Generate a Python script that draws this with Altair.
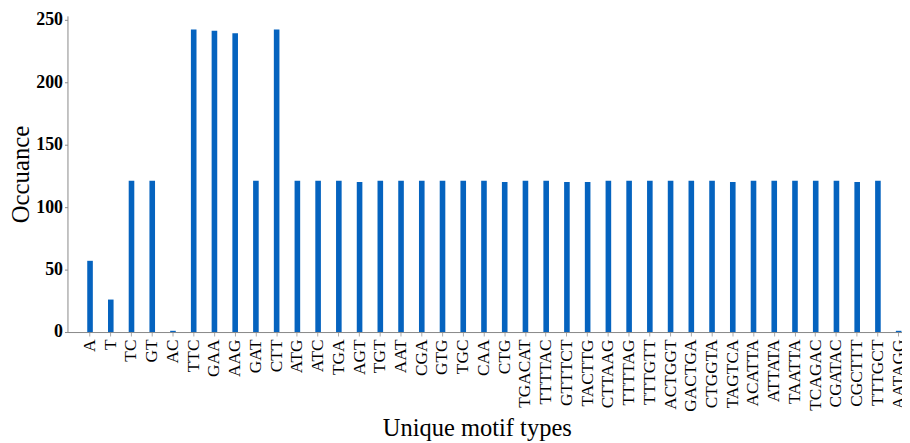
import altair as alt
import pandas as pd

motifs = ["A", "T", "TC", "GT", "AC", "TTC", "GAA", "AAG", "GAT", "CTT",
          "ATG", "ATC", "TGA", "AGT", "TGT", "AAT", "CGA", "GTG", "TGC", "CAA",
          "CTG", "TGACAT", "TTTTAC", "GTTTCT", "TACTTG", "CTTAAG", "TTTTAG", "TTTGTT",
          "ACTGGT", "GACTGA", "CTGGTA", "TAGTCA", "ACATTA", "ATTATA", "TAATTA",
          "TCAGAC", "CGATAC", "CGCTTT", "TTTGCT", "AATAGG"]
counts = [57, 26, 121, 121, 1, 242, 241, 239, 121, 242,
          121, 121, 121, 120, 121, 121, 121, 121, 121, 121,
          120, 121, 121, 120, 120, 121, 121, 121,
          121, 121, 121, 120, 121, 121, 121,
          121, 121, 120, 121, 1]
y_ticks = [0, 50, 100, 150, 200, 250]

df = pd.DataFrame({"motif": motifs, "count": counts})

serif = "Liberation Serif"

chart = alt.Chart(df).mark_bar(color="#0563BF").encode(
    x=alt.X("motif:N", sort=motifs,
            scale=alt.Scale(paddingInner=0.73, paddingOuter=0.49, align=0.973),
            axis=alt.Axis(title="Unique motif types", labelAngle=-90,
                          labelAlign="right", labelBaseline="middle",
                          labelFont=serif, labelFontSize=17.5, labelColor="black",
                          labelPadding=3, tickSize=4, tickColor="#aaaaaa",
                          domainColor="#888888",
                          titleFont=serif, titleFontSize=24.7, titleFontWeight="normal",
                          titleColor="black", titleX=413, titleY=104,
                          titleBaseline="alphabetic", titleAlign="center",
                          labelOverlap=False)),
    y=alt.Y("count:Q", scale=alt.Scale(domain=[0, 253], nice=False),
            axis=alt.Axis(title="Occuance", values=y_ticks, grid=False,
                          labelFont=serif, labelFontSize=18, labelFontWeight="bold",
                          labelColor="black", labelPadding=2, tickSize=3,
                          tickColor="#888888", domainColor="#888888",
                          titleFont=serif, titleFontSize=25, titleFontWeight="normal",
                          titleColor="black", titleX=-47, titleBaseline="middle",
                          titleAlign="center")),
).properties(
    width=842, height=319,
    autosize=alt.AutoSizeParams(type="none"),
    padding={"left": 60, "top": 6, "right": 0, "bottom": 110},
).configure_view(stroke=None)

chart.save("out.html", embed_options={"renderer": "svg", "actions": False})
